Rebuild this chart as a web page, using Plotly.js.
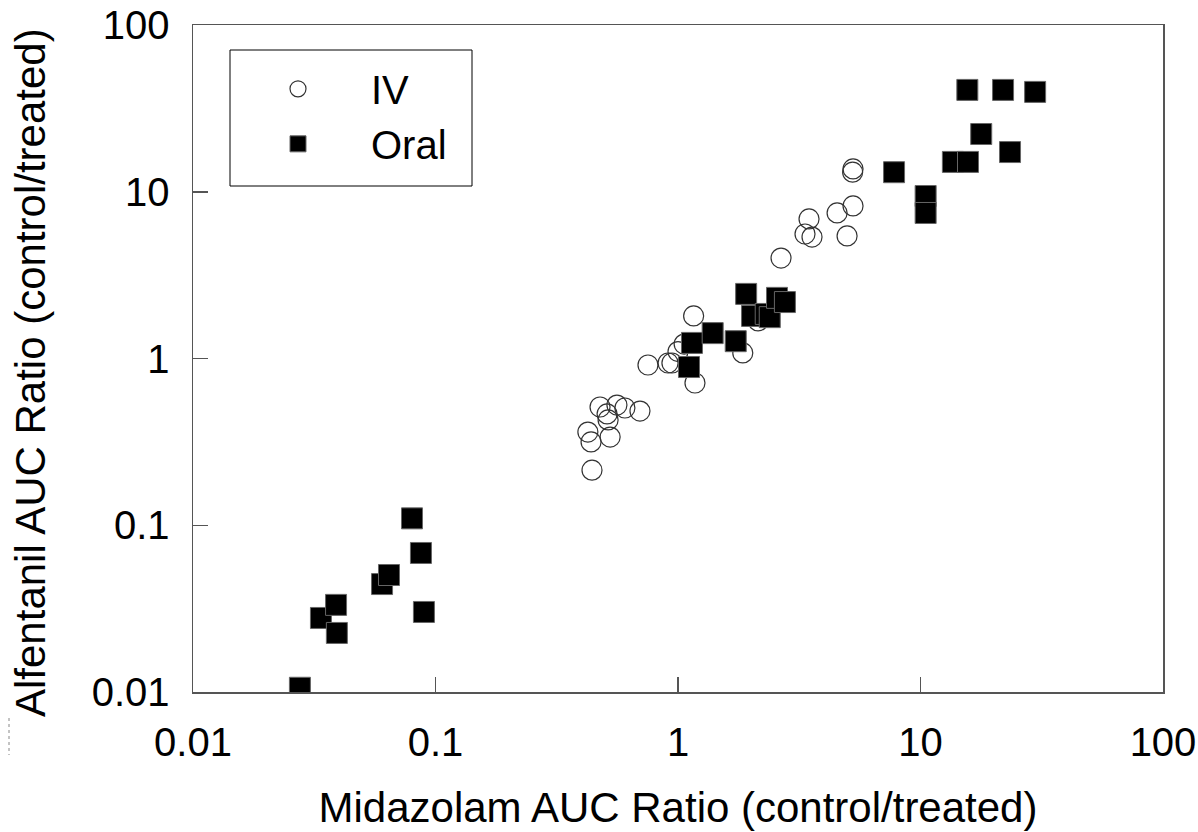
<!DOCTYPE html>
<html>
<head>
<meta charset="utf-8">
<script src="https://cdn.plot.ly/plotly-3.0.1.min.js"></script>
<style>html,body{margin:0;padding:0;background:#fff;}#chart{width:1198px;height:832px;}</style>
</head>
<body>
<div id="chart"></div>
<script>
// IV: midazolam AUC ratio (x) vs alfentanil AUC ratio (y)
const ivX = [0.477,0.56,0.604,0.697,0.51,0.515,0.425,0.438,0.525,0.442,
             0.752,0.91,0.944,1.0,1.06,1.175,1.16,1.85,2.14,
             2.66,3.34,3.57,3.47,4.53,4.98,5.27,5.27,5.25];
const ivY = [0.512,0.526,0.505,0.484,0.465,0.428,0.362,0.316,0.338,0.214,
             0.914,0.94,0.94,1.1,1.22,0.713,1.80,1.08,1.68,
             4.00,5.58,5.35,6.87,7.46,5.43,8.22,13.7,13.1];
// Oral
const oralX = [0.0276,0.0337,0.0389,0.0392,0.0602,0.0643,0.080,0.0871,0.0896,
               1.11,1.142,1.39,1.73,1.91,2.02,2.30,2.39,2.56,2.76,
               7.78,10.5,10.5,13.6,15.7,15.6,21.9,29.7,17.8,23.4];
const oralY = [0.0106,0.0278,0.0333,0.0226,0.0444,0.0503,0.110,0.0682,0.0302,
               0.889,1.24,1.42,1.27,2.44,1.80,1.85,1.77,2.31,2.18,
               13.1,9.43,7.46,15.1,15.1,40.8,40.8,39.7,22.2,17.3];
const tickVals = [0.01,0.1,1,10,100];
const tickText = ['0.01','0.1','1','10','100'];
const xTitle = 'Midazolam AUC Ratio (control/treated)';
const yTitle = 'Alfentanil AUC Ratio (control/treated)';

const FONT = 'Arial, "Liberation Sans", sans-serif';

const traces = [
  {x: ivX, y: ivY, name: 'IV', type: 'scatter', mode: 'markers',
   marker: {symbol: 'circle-open', size: 20, color: '#333', line: {width: 1.2}}},
  {x: oralX, y: oralY, name: 'Oral', type: 'scatter', mode: 'markers',
   marker: {symbol: 'square', size: 21, color: '#000', line: {width: 1, color: '#666'}}}
];

const axisCommon = {
  type: 'log', showgrid: false, zeroline: false,
  showline: true, linecolor: '#555', linewidth: 1.5, mirror: true,
  ticks: 'inside', ticklen: 15, tickwidth: 1.5, tickcolor: '#555',
  tickvals: tickVals, ticktext: tickText,
  tickfont: {family: FONT, size: 40, color: '#000'},
  ticklabelstandoff: 14
};

const layout = {
  width: 1198, height: 832,
  margin: {l: 193, r: 35, t: 25, b: 140},
  paper_bgcolor: '#fff', plot_bgcolor: '#fff',
  showlegend: true,
  xaxis: Object.assign({}, axisCommon, {
    range: [-2, 2],
    title: {text: xTitle, font: {family: FONT, size: 42, color: '#000'}, standoff: 30}
  }),
  yaxis: Object.assign({}, axisCommon, {
    range: [-2, 2]
  }),
  legend: {
    x: (225-193)/970, y: 0.953, xanchor: 'left', yanchor: 'top',
    bgcolor: 'rgba(0,0,0,0)', borderwidth: 0,
    font: {family: FONT, size: 40, color: '#000'},
    itemwidth: 136
  },
  annotations: [
    {text: yTitle, xref: 'paper', yref: 'paper', x: (30-193)/970, y: (692-373)/667,
     xanchor: 'center', yanchor: 'middle', textangle: -90, showarrow: false,
     font: {family: FONT, size: 42, color: '#000'}}
  ],
  shapes: [
    {type: 'rect', xref: 'paper', yref: 'paper',
     x0: (230-193)/970, x1: (472-193)/970, y0: (692-186)/667, y1: (692-50)/667,
     line: {color: '#000', width: 1}, fillcolor: 'rgba(0,0,0,0)'},
    {type: 'line', xref: 'paper', yref: 'paper',
     x0: (9-193)/970, x1: (9-193)/970, y0: (692-718)/667, y1: (692-755)/667,
     line: {color: '#888', width: 1, dash: 'dot'}}
  ]
};

Plotly.newPlot('chart', traces, layout, {displayModeBar: false, staticPlot: true});
</script>
</body>
</html>
